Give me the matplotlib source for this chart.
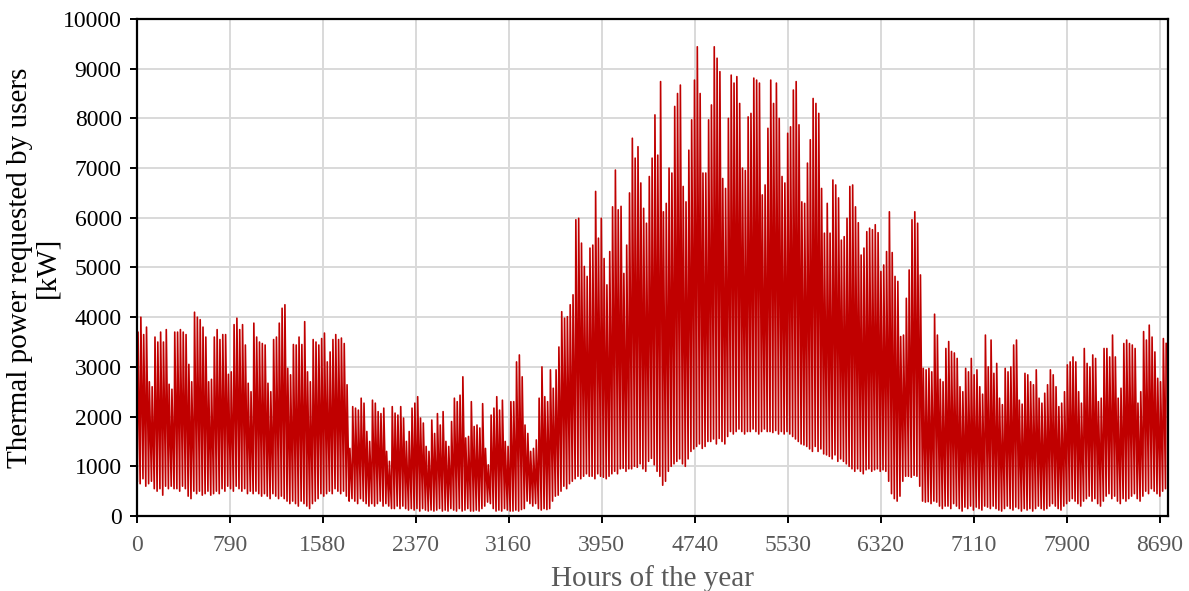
import numpy as np
import matplotlib
matplotlib.use("Agg")
import matplotlib.pyplot as plt

# Daily maximum (peak) thermal power, kW (one row per week)
daily_peak_kw = [
    3700, 4000, 3650, 3800, 2700, 2600, 3600,
    3500, 3700, 3500, 3750, 2650, 2550, 3700,
    3700, 3750, 3700, 3650, 3050, 2700, 4100,
    4000, 3950, 3800, 3600, 2700, 2750, 3600,
    3750, 3550, 3650, 3650, 2850, 2900, 3850,
    3980, 3750, 3850, 3440, 2670, 2500, 3880,
    3600, 3500, 3470, 3440, 2670, 2500, 3550,
    3600, 3880, 4180, 4250, 2970, 2840, 3450,
    3440, 3600, 3450, 3910, 2900, 2700, 3550,
    3500, 3440, 3570, 3680, 3100, 3300, 3550,
    3650, 3550, 3580, 3470, 2640, 1360, 2200,
    2170, 2130, 2370, 2270, 1700, 1500, 2330,
    2270, 2100, 2060, 2170, 1300, 1100, 2200,
    2070, 2030, 2200, 1970, 1500, 1700, 2170,
    2270, 2400, 1970, 1870, 1400, 1300, 1930,
    1660, 2060, 1830, 2100, 1500, 1400, 1900,
    2370, 2300, 2430, 2800, 1570, 1600, 2300,
    1800, 1830, 1770, 2260, 1360, 1030, 2030,
    2170, 2400, 2130, 2330, 1500, 1400, 2300,
    2300, 3100, 3240, 2800, 1830, 1660, 1300,
    1360, 1530, 2370, 3000, 2400, 2300, 2940,
    2570, 2940, 3400, 4110, 3980, 4010, 4250,
    4450, 5960, 5990, 5490, 5020, 4820, 5390,
    5450, 6530, 5590, 5990, 5180, 4650, 5320,
    6220, 6960, 6160, 6230, 4880, 5450, 6500,
    7600, 7200, 7430, 6700, 6190, 5890, 6830,
    7200, 8070, 7260, 8740, 6120, 6290, 7000,
    6900, 8240, 8500, 8670, 6630, 6320, 7360,
    7970, 8770, 9440, 8500, 6900, 6900, 7970,
    8270, 9440, 9210, 8940, 6790, 6590, 8000,
    8870, 8710, 8840, 8300, 7000, 6950, 8030,
    8100, 8810, 8770, 8710, 6460, 6660, 7800,
    8770, 8300, 8710, 8000, 6830, 6700, 7700,
    7830, 8570, 8740, 7870, 6320, 6290, 7100,
    7570, 8400, 8300, 8100, 6590, 5690, 6290,
    5690, 6760, 6660, 6400, 5550, 5620, 5990,
    6630, 6660, 6220, 5900, 5250, 5390, 5720,
    5790, 5760, 5860, 5700, 4920, 5050, 5320,
    6120, 5300, 4820, 4720, 3610, 3640, 4380,
    4950, 5960, 6120, 5890, 4850, 2970, 2940,
    2970, 2900, 4060, 3640, 2750, 2700, 3370,
    3510, 3310, 3280, 3170, 2600, 2500, 2970,
    2900, 3170, 2840, 2940, 2600, 2450, 3640,
    3000, 3540, 2870, 3070, 2370, 2240, 2970,
    2900, 3000, 3440, 3540, 2330, 2250, 2870,
    2840, 2700, 2640, 2940, 2370, 2270, 2470,
    2640, 2940, 2840, 2600, 2200, 2270, 2500,
    3040, 3100, 3200, 3100, 2500, 2270, 3370,
    3070, 3000, 3240, 3170, 2300, 2370, 3370,
    3370, 3200, 3640, 3200, 2370, 2570, 3470,
    3540, 3470, 3440, 3370, 2270, 2500, 3710,
    3540, 3840, 3600, 3300, 2770, 2700, 3570,
    3470,
]

# Daily minimum (night trough) thermal power, kW
daily_trough_kw = [
    700, 650, 750, 600, 650, 700, 550,
    500, 550, 420, 600, 550, 600, 550,
    550, 500, 600, 550, 400, 350, 500,
    450, 500, 420, 450, 500, 420, 450,
    500, 450, 550, 500, 600, 550, 500,
    600, 550, 500, 550, 450, 500, 450,
    500, 450, 400, 450, 400, 350, 450,
    400, 350, 400, 350, 300, 250, 300,
    250, 200, 300, 250, 200, 150, 250,
    300, 350, 450, 400, 450, 500, 450,
    550, 500, 450, 500, 400, 300, 350,
    300, 250, 350, 300, 250, 200, 250,
    200, 250, 300, 200, 250, 200, 150,
    150, 200, 150, 200, 150, 120, 150,
    120, 150, 100, 150, 120, 100, 120,
    100, 120, 150, 100, 120, 100, 150,
    120, 100, 150, 100, 120, 150, 100,
    100, 120, 100, 150, 200, 280, 250,
    150, 100, 120, 100, 150, 120, 100,
    100, 120, 100, 130, 150, 300, 250,
    200, 250, 150, 120, 150, 130, 150,
    300, 400, 420, 500, 600, 550, 650,
    700, 750, 800, 750, 800, 850, 800,
    800, 750, 850, 800, 780, 750, 800,
    850, 900, 850, 950, 960, 900, 950,
    950, 1000, 980, 1050, 950, 900, 1100,
    1160, 1030, 900, 800, 620, 700, 900,
    1000, 1050, 1100, 1150, 1050, 1000, 1150,
    1300, 1350, 1400, 1450, 1360, 1400, 1500,
    1500, 1550, 1450, 1560, 1500, 1450, 1600,
    1700, 1650, 1700, 1750, 1700, 1650, 1700,
    1700, 1750, 1700, 1650, 1700, 1750, 1700,
    1700, 1680, 1720, 1650, 1700, 1650, 1700,
    1650, 1600, 1550, 1500, 1450, 1430, 1400,
    1350, 1300, 1400, 1300, 1350, 1250, 1230,
    1200, 1150, 1230, 1100, 1150, 1100, 1050,
    1000, 950, 900, 950, 900, 850, 930,
    950, 900, 930, 950, 900, 930, 900,
    700, 450, 350, 300, 400, 700, 800,
    800, 780, 820, 800, 600, 300, 280,
    290, 250, 300, 280, 200, 150, 200,
    200, 150, 250, 200, 150, 100, 180,
    150, 200, 120, 180, 150, 120, 200,
    180, 150, 200, 150, 120, 100, 150,
    200, 150, 120, 180, 150, 100, 150,
    120, 150, 100, 150, 200, 150, 120,
    150, 200, 250, 200, 150, 120, 200,
    250, 300, 350, 300, 250, 200, 300,
    350, 400, 300, 350, 250, 200, 300,
    400, 450, 350, 400, 300, 250, 350,
    300, 350, 400, 450, 350, 300, 400,
    500, 450, 550, 500, 450, 400, 500,
    550,
]

trough_hour_of_day = 3
peak_hour_of_day = 9
x_tick_values = [0, 790, 1580, 2370, 3160, 3950, 4740, 5530, 6320, 7110, 7900, 8690]
y_tick_values = [0, 1000, 2000, 3000, 4000, 5000, 6000, 7000, 8000, 9000, 10000]

days = np.arange(len(daily_peak_kw))
hours = np.column_stack([days * 24 + trough_hour_of_day,
                         days * 24 + peak_hour_of_day]).ravel()
power = np.column_stack([daily_trough_kw, daily_peak_kw]).ravel()

plt.rcParams['font.family'] = ['Liberation Serif', 'DejaVu Serif']

fig = plt.figure(figsize=(11.89, 5.91), dpi=100)
ax = fig.add_axes([0.1152, 0.1269, 0.8671, 0.8410])

ax.plot(hours, power, color='#C00000', lw=1.2)

ax.set_xlim(0, 8760)
ax.set_ylim(0, 10000)
ax.set_xticks(x_tick_values)
ax.set_yticks(y_tick_values)
ax.grid(True, color='#d9d9d9', lw=1.4)
ax.set_axisbelow(True)
for s in ax.spines.values():
    s.set_linewidth(1.6)
    s.set_color('black')
ax.tick_params(axis='both', direction='out', length=5, width=1.4, color='black')
ax.tick_params(axis='x', labelsize=17, labelcolor='#595959', pad=9)
ax.tick_params(axis='y', labelsize=17, labelcolor='black', pad=6)

ax.set_xlabel('Hours of the year', fontsize=21, color='#595959', labelpad=6)
ax.set_ylabel('Thermal power requested by users\n[kW]', fontsize=21,
              color='black', labelpad=2, linespacing=1.05)

fig.savefig('out.png', dpi=100)
